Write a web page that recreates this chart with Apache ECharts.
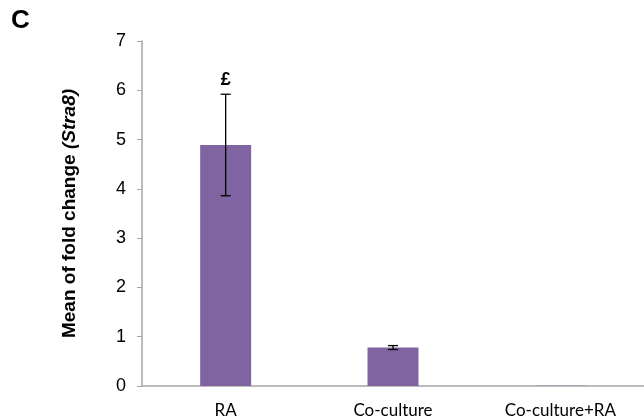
<!DOCTYPE html>
<html><head><meta charset="utf-8">
<script src="https://cdn.jsdelivr.net/npm/echarts@6/dist/echarts.min.js"></script>
<style>html,body{margin:0;padding:0;background:#fff}#c{width:644px;height:420px}</style>
</head><body><div id="c"></div>
<script>
var categories = ['RA', 'Co-culture', 'Co-culture+RA'];
var means = [4.89, 0.78, 0.005];
var errors = [1.03, 0.04, 0.0];
var annotations = ['£', '', ''];

var chart = echarts.init(document.getElementById('c'));
var errData = categories.map(function (c, i) { return [i, means[i] - errors[i], means[i] + errors[i], annotations[i]]; });
chart.setOption({
  animation: false,
  grid: { left: 142, right: -5, top: 41, bottom: 34 },
  graphic: [{ type: 'text', left: 11, top: 8, style: { text: 'C', font: 'bold 26px Arial', fill: '#000' } }],
  xAxis: {
    type: 'category', data: categories,
    axisLine: { lineStyle: { color: '#a6a6a6', width: 1.5 } },
    axisTick: { show: false },
    axisLabel: { color: '#000', fontSize: 17, fontFamily: 'Lato', margin: 16 }
  },
  yAxis: {
    type: 'value', min: 0, max: 7, interval: 1,
    name: '{b|Mean of fold change }{i|(Stra8)}',
    nameLocation: 'middle', nameRotate: 90, nameGap: 63,
    nameTextStyle: { rich: { b: { fontSize: 19, fontWeight: 'bold', fontFamily: 'Arial', color: '#000' }, i: { fontSize: 19, fontWeight: 'bold', fontStyle: 'italic', fontFamily: 'Arial', color: '#000' } } },
    axisLine: { show: true, lineStyle: { color: '#a6a6a6', width: 1.5 } },
    axisTick: { show: true, length: 5, lineStyle: { color: '#a6a6a6' } },
    splitLine: { show: false },
    axisLabel: { color: '#000', fontSize: 18, fontFamily: 'Arial', margin: 16 }
  },
  series: [{
    type: 'bar', data: means, barWidth: 51,
    itemStyle: { color: '#8064a2' }
  }, {
    type: 'custom', data: errData, z: 10,
    renderItem: function (params, api) {
      var x = api.value(0);
      var lo = api.coord([x, api.value(1)]);
      var hi = api.coord([x, api.value(2)]);
      var hw = 5;
      var st = { stroke: '#000', lineWidth: 1.3 };
      var children = [
        { type: 'line', shape: { x1: lo[0], y1: lo[1], x2: hi[0], y2: hi[1] }, style: st },
        { type: 'line', shape: { x1: lo[0] - hw, y1: lo[1], x2: lo[0] + hw, y2: lo[1] }, style: st },
        { type: 'line', shape: { x1: hi[0] - hw, y1: hi[1], x2: hi[0] + hw, y2: hi[1] }, style: st }
      ];
      var ann = api.value(3);
      if (ann) children.push({ type: 'text', x: hi[0], y: hi[1] - 5, style: { text: ann, font: 'bold 18px Arial', fill: '#000', align: 'center', verticalAlign: 'bottom' } });
      if (errors[params.dataIndex] === 0) children = [];
      return { type: 'group', children: children };
    }
  }]
});
</script></body></html>
